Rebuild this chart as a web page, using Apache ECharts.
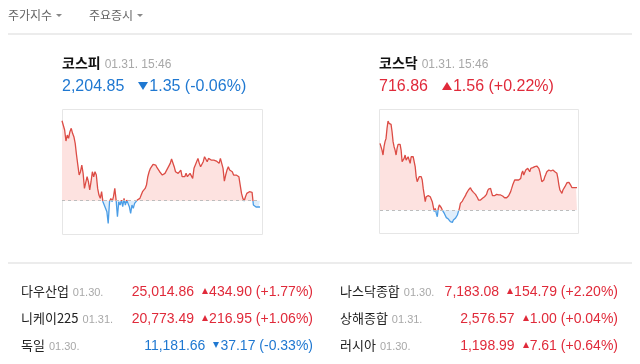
<!DOCTYPE html>
<html><head><meta charset="utf-8">
<script src="https://cdn.jsdelivr.net/npm/echarts@6/dist/echarts.min.js"></script>
<style>
html,body{margin:0;padding:0;background:#fff;width:640px;height:364px;overflow:hidden;position:relative;}
#c{position:absolute;left:0;top:0;width:640px;height:364px;}
.t{position:absolute;white-space:nowrap;line-height:20px;height:20px;}
.kr{font-family:"Noto Sans CJK KR","Noto Sans",sans-serif;}
.num{font-family:"Liberation Sans",Arial,sans-serif;}
.dt{font-family:"Liberation Sans",Arial,sans-serif;color:#a8a8a8;}
.tri{display:inline-block;width:0;height:0;vertical-align:middle;}
.hr{position:absolute;height:2px;background:#ececec;}
</style></head>
<body>
<div id="c"></div>
<script>
// ---- data ----
const kospiName = '코스피', kosdaqName = '코스닥';
const kospiPrev = 2206.20, kosdaqPrev = 715.30;
const kospiClose = '2,204.85', kospiChg = '1.35', kospiPct = '(-0.06%)';
const kosdaqClose = '716.86', kosdaqChg = '1.56', kosdaqPct = '(+0.22%)';
const stamp = '01.31. 15:46';
const kospi = [2223.34,2222.99,2221.34,2218.99,2220.27,2219.56,2220.99,2221.70,2220.63,2219.91,2218.49,2215.99,2213.84,2211.70,2212.41,2213.84,2212.06,2208.84,2209.20,2211.34,2210.27,2208.49,2210.27,2212.41,2211.34,2212.41,2211.70,2208.84,2207.41,2206.70,2208.13,2205.99,2205.27,2205.63,2203.84,2201.34,2205.99,2206.70,2205.99,2207.06,2208.84,2206.34,2202.77,2205.99,2205.27,2206.34,2204.91,2206.70,2205.27,2206.34,2205.63,2204.91,2203.49,2205.27,2204.56,2205.63,2205.99,2206.34,2205.99,2206.70,2207.41,2208.13,2207.77,2208.84,2209.56,2211.34,2212.41,2213.13,2213.49,2213.99,2213.70,2213.84,2213.27,2213.13,2212.41,2212.77,2211.70,2211.34,2212.06,2211.70,2213.13,2213.49,2214.20,2215.13,2215.27,2213.49,2212.41,2212.77,2212.06,2212.41,2212.77,2211.34,2211.70,2211.34,2212.06,2211.34,2211.34,2212.06,2212.41,2210.99,2213.13,2213.84,2214.20,2215.27,2214.20,2213.49,2213.84,2214.56,2215.63,2215.27,2214.56,2215.27,2214.91,2214.91,2215.27,2214.91,2215.13,2214.70,2214.91,2214.20,2215.27,2214.91,2213.13,2210.41,2211.70,2212.77,2213.49,2212.77,2213.13,2212.41,2211.70,2212.06,2211.70,2212.06,2211.34,2209.56,2207.77,2206.70,2206.13,2207.06,2207.77,2208.13,2208.13,2207.99,2207.99,2205.27,2204.85,2204.85,2204.85,2204.85,2204.85];
const kosdaq = [719.91,719.80,719.45,719.11,719.68,720.03,720.25,720.94,721.45,721.29,721.17,721.22,720.71,720.03,719.68,719.45,719.11,719.57,719.84,719.91,719.84,719.45,718.65,718.53,718.88,719.11,718.76,718.65,718.99,718.88,718.53,718.99,719.11,718.99,718.88,718.31,717.62,717.27,717.39,717.62,717.50,717.62,717.39,716.81,716.36,715.90,716.24,716.36,716.31,716.36,716.24,716.36,715.90,715.55,715.21,715.44,715.09,714.86,715.44,715.67,715.55,715.48,715.32,715.21,715.09,714.98,714.80,714.75,714.70,714.63,714.52,714.41,714.47,714.63,714.75,714.75,714.86,714.98,715.21,715.44,715.78,715.90,715.94,716.08,716.13,716.31,716.47,716.59,716.70,716.81,716.86,716.70,716.59,716.54,716.47,716.40,716.31,716.17,716.01,715.90,716.01,716.08,716.13,716.13,716.24,716.36,716.40,716.63,716.77,716.81,716.81,716.54,716.31,716.24,716.31,716.36,716.40,716.31,716.36,716.40,716.36,716.31,716.29,716.24,716.17,716.13,716.17,716.24,716.31,716.40,716.59,716.81,717.04,717.16,717.39,717.27,717.39,717.27,717.39,717.32,717.50,717.85,718.01,717.73,717.85,718.08,717.96,718.19,718.08,717.96,718.19,718.08,718.24,718.19,718.31,718.37,718.35,718.31,718.19,717.96,717.62,717.27,717.16,717.39,717.62,717.78,717.96,717.85,718.08,718.15,718.01,718.08,718.08,718.01,717.96,718.01,717.85,717.50,717.04,716.70,716.63,716.47,716.70,716.81,716.93,717.04,717.20,717.23,717.23,717.16,717.00,716.86,716.86,716.86,716.86,716.86,716.86];
const tabs = ['주가지수','주요증시'];
const worldNames = ['다우산업','니케이225','독일','나스닥종합','상해종합','러시아'];
const worldDates = ['01.30.','01.31.','01.30.','01.30.','01.31.','01.30.'];
const worldValues = ['25,014.86','20,773.49','11,181.66','7,183.08','2,576.57','1,198.99'];
const worldChanges = ['434.90','216.95','37.17','154.79','1.00','7.61'];
const worldPcts = ['(+1.77%)','(+1.06%)','(-0.33%)','(+2.20%)','(+0.04%)','(+0.64%)'];
const worldUp = [true,true,false,true,true,true];

// ---- colours ----
const RED='#e02a3a', BLUE='#1f78d1';
const LRED='#dc4c45', LBLUE='#4a9de6', FRED='#fde2e0', FBLUE='#e0eefb';

// ---- html text ----
function add(html, css){const d=document.createElement('div');d.className='t';d.innerHTML=html;Object.assign(d.style,css);document.body.appendChild(d);return d;}
function triUp(w,h,c){return `<span class="tri" style="border-left:${w/2}px solid transparent;border-right:${w/2}px solid transparent;border-bottom:${h}px solid ${c};margin-right:1px;position:relative;top:-1px"></span>`;}
function triDn(w,h,c){return `<span class="tri" style="border-left:${w/2}px solid transparent;border-right:${w/2}px solid transparent;border-top:${h}px solid ${c};margin-right:1px;position:relative;top:-1px"></span>`;}

add(`<span class="kr" style="font-size:12px;color:#666">${tabs[0]}</span> ${triDn(6,3,'#888')}`,{left:'8px',top:'5px'});
add(`<span class="kr" style="font-size:12px;color:#666">${tabs[1]}</span> ${triDn(6,3,'#888')}`,{left:'89px',top:'5px'});
const hr1=document.createElement('div');hr1.className='hr';Object.assign(hr1.style,{left:'8px',top:'33px',width:'624px'});document.body.appendChild(hr1);
const hr2=document.createElement('div');hr2.className='hr';Object.assign(hr2.style,{left:'8px',top:'262px',width:'624px'});document.body.appendChild(hr2);

function header(x, name, close, chg, pct, up){
  add(`<span class="kr" style="font-size:14px;font-weight:bold;color:#111">${name}</span> <span class="dt" style="font-size:12px">${stamp}</span>`,{left:x+'px',top:'52px'});
  const c = up?RED:BLUE;
  add(`<span class="num" style="font-size:16px;color:${c}">${close}</span><span style="display:inline-block;width:14px"></span>${up?triUp(10,8,c):triDn(10,8,c)}<span class="num" style="font-size:16px;color:${c}">${chg} ${pct}</span>`,{left:x+'px',top:'76px'});
}
header(62,kospiName,kospiClose,kospiChg,kospiPct,false);
header(379,kosdaqName,kosdaqClose,kosdaqChg,kosdaqPct,true);

const rowsY=[281,308,335];
worldNames.forEach((n,i)=>{
  const col = i<3?0:1, r=i%3;
  const x = col?340:21, right = col?(640-618):(640-313);
  add(`<span class="kr" style="font-size:13px;color:#222">${n}</span> <span class="dt" style="font-size:11px">${worldDates[i]}</span>`,{left:x+'px',top:rowsY[r]+'px'});
  const c = worldUp[i]?RED:BLUE;
  add(`<span class="num" style="font-size:14px;color:${c}">${worldValues[i]}</span><span style="display:inline-block;width:8px"></span>${worldUp[i]?triUp(7,6,c):triDn(7,6,c)}<span class="num" style="font-size:14px;color:${c}">${worldChanges[i]} ${worldPcts[i]}</span>`,{right:right+'px',top:rowsY[r]+'px'});
});

// ---- chart ----
const chart = echarts.init(document.getElementById('c'), null, {renderer:'canvas', width:640, height:364});
function mkSeries(idx, data, prev){
  return [
    {type:'line', xAxisIndex:idx, yAxisIndex:idx, data:data, symbol:'none', silent:true,
     lineStyle:{width:0, opacity:0}, areaStyle:{origin:prev, opacity:1},
     markLine:{silent:true, symbol:['none','none'], label:{show:false},
       lineStyle:{type:[3,3], color:'#bdbdbd', width:1}, data:[{yAxis:prev}]}},
    {type:'line', xAxisIndex:idx, yAxisIndex:idx, data:data, symbol:'none', silent:true,
     lineStyle:{width:1.3}}
  ];
}
function pieces(prev, span, cUp, cDn){
  return [{gt:prev, lte:prev+span, color:cUp},{gte:prev-span, lte:prev, color:cDn}];
}
const option = {
  animation:false,
  grid:[{left:62, top:120.7, width:198, height:102.7},{left:380, top:121, width:197, height:102.3}],
  xAxis:[
    {type:'category', gridIndex:0, data:kospi.map((_,i)=>i), boundaryGap:false, show:false},
    {type:'category', gridIndex:1, data:kosdaq.map((_,i)=>i), boundaryGap:false, show:false}
  ],
  yAxis:[
    {type:'value', gridIndex:0, scale:true, min:v=>v.min, max:v=>v.max, show:false, splitLine:{show:false}},
    {type:'value', gridIndex:1, scale:true, min:v=>v.min, max:v=>v.max, show:false, splitLine:{show:false}}
  ],
  visualMap:[
    {type:'piecewise', show:false, seriesIndex:0, dimension:1, pieces:pieces(kospiPrev,60,FRED,FBLUE)},
    {type:'piecewise', show:false, seriesIndex:1, dimension:1, pieces:pieces(kospiPrev,60,LRED,LBLUE)},
    {type:'piecewise', show:false, seriesIndex:2, dimension:1, pieces:pieces(kosdaqPrev,20,FRED,FBLUE)},
    {type:'piecewise', show:false, seriesIndex:3, dimension:1, pieces:pieces(kosdaqPrev,20,LRED,LBLUE)}
  ],
  graphic:[
    {type:'rect', silent:true, z:-1, shape:{x:62.5,y:109.5,width:200,height:125}, style:{fill:'none',stroke:'#e6e6e6',lineWidth:1}},
    {type:'rect', silent:true, z:-1, shape:{x:379.5,y:109.5,width:199,height:124}, style:{fill:'none',stroke:'#e6e6e6',lineWidth:1}}
  ],
  series:[...mkSeries(0,kospi,kospiPrev), ...mkSeries(1,kosdaq,kosdaqPrev)]
};
chart.setOption(option);
</script>
</body></html>
